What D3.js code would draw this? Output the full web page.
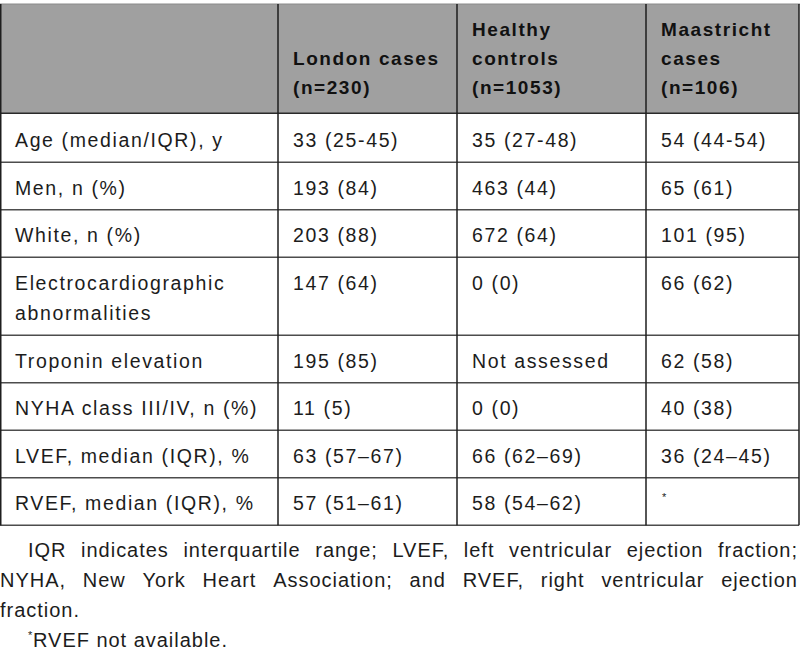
<!DOCTYPE html>
<html><head><meta charset="utf-8">
<script src="https://cdn.jsdelivr.net/npm/d3@7"></script>
<style>html,body{margin:0;padding:0;background:#fff;} svg{display:block;}</style>
</head><body><svg id="c" width="800" height="657"></svg>
<script>
// ---- data ----
const columnHeaders = ["", "London cases\n(n=230)", "Healthy\ncontrols\n(n=1053)", "Maastricht\ncases\n(n=106)"];
const rowLabels = ["Age (median/IQR), y", "Men, n (%)", "White, n (%)", "Electrocardiographic\nabnormalities", "Troponin elevation", "NYHA class III/IV, n (%)", "LVEF, median (IQR), %", "RVEF, median (IQR), %"];
const londonCases = ["33 (25-45)", "193 (84)", "203 (88)", "147 (64)", "195 (85)", "11 (5)", "63 (57–67)", "57 (51–61)"];
const healthyControls = ["35 (27-48)", "463 (44)", "672 (64)", "0 (0)", "Not assessed", "0 (0)", "66 (62–69)", "58 (54–62)"];
const maastrichtCases = ["54 (44-54)", "65 (61)", "101 (95)", "66 (62)", "62 (58)", "40 (38)", "36 (24–45)", "*"];
const footnoteLines = [
  {text: "IQR indicates interquartile range; LVEF, left ventricular ejection fraction;", indent: true, justify: true},
  {text: "NYHA, New York Heart Association; and RVEF, right ventricular ejection", indent: false, justify: true},
  {text: "fraction.", indent: false, justify: false},
  {text: "*RVEF not available.", indent: true, justify: false, sup: true}
];

// ---- layout ----
const W = 800;
const font = "'Liberation Sans', Arial, sans-serif";
const colEdges = [0, 278, 457, 646, 799];
const headTop = 4, headBottom = 113.3, bodyTop = 114.8;
const lineH = 30.5, rowPad = 17;
const textColor = "#1c1c1c";

const svg = d3.select("#c");

// fit tracking so the sans font matches the wider reference typeface
function fitSpacing(sample, size, weight, target) {
  const t = svg.append("text").attr("font-family", font).attr("font-size", size)
    .attr("font-weight", weight).text(sample);
  const w = t.node().getComputedTextLength();
  t.remove();
  return (target - w) / (sample.length - 1);
}
const bodyFs = 19.5, headFs = 19, fnFs = 20;
const bodyLs = fitSpacing("Age (median/IQR), y", bodyFs, "normal", 207);
const headLs = fitSpacing("London cases", headFs, "bold", 145);
const fnLs = fitSpacing("RVEF not available.", fnFs, "normal", 194);

const columns = [rowLabels, londonCases, healthyControls, maastrichtCases];
const nRows = rowLabels.length;

const lineCount = i => d3.max(columns, c => c[i].split("\n").length);
const rowHeights = d3.range(nRows).map(i => rowPad + lineH * lineCount(i));
const rowTops = [bodyTop, ...d3.cumsum(rowHeights).map(v => bodyTop + v)];
const tableBottom = rowTops[nRows];

// header background
svg.append("rect").attr("x", colEdges[0]).attr("y", headTop)
  .attr("width", colEdges[4] - colEdges[0]).attr("height", headBottom - headTop)
  .attr("fill", "#a0a0a0");

// header text (bottom aligned)
columnHeaders.forEach((h, j) => {
  if (!h) return;
  const lines = h.split("\n");
  const t = svg.append("text").attr("font-family", font).attr("font-size", headFs)
    .attr("font-weight", "bold").attr("letter-spacing", headLs).attr("fill", "#111");
  lines.forEach((ln, k) => {
    t.append("tspan").attr("x", colEdges[j] + 15)
      .attr("y", 94 - (lines.length - 1 - k) * 29).text(ln);
  });
});

// body text
columns.forEach((col, j) => {
  col.forEach((val, i) => {
    const x = colEdges[j] + 15;
    const y0 = rowTops[i] + 32.5;
    if (val === "*") {
      svg.append("text").attr("x", x + 1).attr("y", y0 - 9).attr("font-family", font)
        .attr("font-size", 11).attr("fill", textColor).text("*");
      return;
    }
    const t = svg.append("text").attr("font-family", font).attr("font-size", bodyFs)
      .attr("letter-spacing", bodyLs).attr("fill", textColor);
    val.split("\n").forEach((ln, k) => {
      t.append("tspan").attr("x", x).attr("y", y0 + k * lineH).text(ln);
    });
  });
});

// grid lines
svg.append("line").attr("x1", 0).attr("x2", W).attr("y1", headTop).attr("y2", headTop)
  .attr("stroke", "#8a8a8a").attr("stroke-width", 1);
svg.append("line").attr("x1", 0).attr("x2", colEdges[4]).attr("y1", headBottom).attr("y2", headBottom)
  .attr("stroke", "#2a2a2a").attr("stroke-width", 1.5);
rowTops.slice(1).forEach(y => {
  svg.append("line").attr("x1", 0).attr("x2", colEdges[4]).attr("y1", y).attr("y2", y)
    .attr("stroke", "#4d4d4d").attr("stroke-width", 1.5);
});
colEdges.forEach(x => {
  svg.append("line").attr("x1", x === 0 ? 0.75 : x).attr("x2", x === 0 ? 0.75 : x)
    .attr("y1", headTop).attr("y2", tableBottom)
    .attr("stroke", "#1e1e1e").attr("stroke-width", 1.5);
});

// footnotes
const fnLeft = 0, fnIndent = 28, fnRight = 797;
footnoteLines.forEach((fl, k) => {
  const y = 557 + k * 30;
  const x0 = fnLeft + (fl.indent ? fnIndent : 0);
  const t = svg.append("text").attr("font-family", font).attr("font-size", fnFs)
    .attr("letter-spacing", fnLs).attr("fill", textColor);
  if (fl.sup) {
    t.append("tspan").attr("x", x0).attr("y", y - 8).attr("font-size", 11).attr("letter-spacing", 0).text("*");
    t.append("tspan").attr("x", x0 + 5).attr("y", y).text(fl.text.slice(1));
    return;
  }
  if (!fl.justify) {
    t.append("tspan").attr("x", x0).attr("y", y).text(fl.text);
    return;
  }
  const words = fl.text.split(" ");
  const widths = words.map(w => {
    const tmp = t.append("tspan").text(w);
    const wd = tmp.node().getComputedTextLength() - fnLs;
    tmp.remove();
    return wd;
  });
  const gap = (fnRight - x0 - d3.sum(widths)) / (words.length - 1);
  let x = x0;
  words.forEach((w, i) => {
    t.append("tspan").attr("x", x).attr("y", y).text(w);
    x += widths[i] + gap;
  });
});
</script></body></html>
